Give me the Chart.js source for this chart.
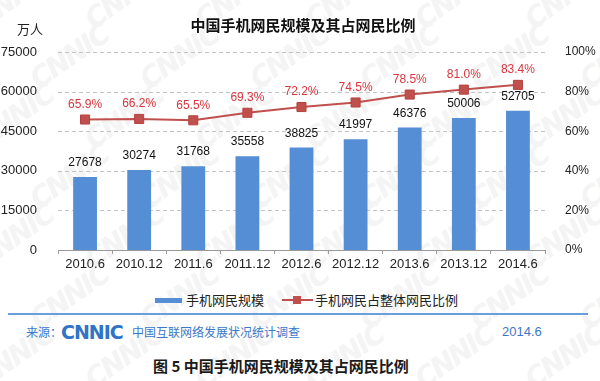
<!DOCTYPE html>
<html>
<head>
<meta charset="utf-8">
<script src="https://cdn.jsdelivr.net/npm/chart.js@4.4.1/dist/chart.umd.min.js"></script>
<style>
  body { margin: 0; width: 600px; height: 381px; overflow: hidden; background: #fff; position: relative;
         font-family: "Liberation Sans", Arial, "Noto Sans CJK SC", sans-serif; }
  .abs { position: absolute; white-space: nowrap; }
  .cjk { font-family: "Noto Sans CJK SC", sans-serif; }
  #wm { position: absolute; left: 0; top: 0; width: 600px; height: 381px; overflow: hidden; }
  #wm span { position: absolute; font: italic bold 28px "DejaVu Sans", sans-serif; color: #f4f4f4;
             transform: rotate(-35deg); letter-spacing: -2px; }
  #myChart { position: absolute; left: 0; top: 0; }
</style>
</head>
<body>
<div id="wm"></div>
<canvas id="myChart" width="600" height="290"></canvas>

<div class="abs cjk" style="left:0;width:606px;text-align:center;top:16px;font-size:15px;line-height:18px;font-weight:bold;color:#111;">中国手机网民规模及其占网民比例</div>
<div class="abs cjk" style="left:17px;top:21px;font-size:13px;line-height:16px;color:#222;">万人</div>

<div class="abs" style="left:155px;top:298px;width:27px;height:5px;background:#558ED5;"></div>
<div class="abs cjk" style="left:186px;top:291px;font-size:13px;line-height:18px;color:#222;">手机网民规模</div>
<div class="abs" style="left:282px;top:299px;width:31px;height:2px;background:#C0504D;"></div>
<div class="abs" style="left:293px;top:296px;width:8px;height:8px;background:#C0504D;"></div>
<div class="abs cjk" style="left:315px;top:291px;font-size:13px;line-height:18px;color:#222;">手机网民占整体网民比例</div>

<div class="abs" style="left:8px;top:313px;width:580px;height:2px;background:#6A9FDC;"></div>
<div class="abs cjk" style="left:26px;top:324px;font-size:12px;line-height:16px;color:#3A78C9;">来源：</div>
<div class="abs" style="left:61px;top:322px;font:bold 19px 'DejaVu Sans',sans-serif;line-height:20px;color:#2F74C6;letter-spacing:-1px;">CNNIC</div>
<div class="abs cjk" style="left:132px;top:324px;font-size:12px;line-height:16px;color:#3A78C9;">中国互联网络发展状况统计调查</div>
<div class="abs" style="left:502px;top:324px;font-size:13px;line-height:16px;color:#3A78C9;">2014.6</div>

<div class="abs cjk" style="left:153px;top:357px;font-size:15px;line-height:18px;font-weight:bold;color:#1a1a1a;">图 5 中国手机网民规模及其占网民比例</div>

<script>
const categories = ["2010.6", "2010.12", "2011.6", "2011.12", "2012.6", "2012.12", "2013.6", "2013.12", "2014.6"];
const mobileUsers = [27678, 30274, 31768, 35558, 38825, 41997, 46376, 50006, 52705];
const mobileShare = [65.9, 66.2, 65.5, 69.3, 72.2, 74.5, 78.5, 81.0, 83.4];
const leftTicks = [0, 15000, 30000, 45000, 60000, 75000];
const rightTicks = [0, 20, 40, 60, 80, 100];

// watermark
(function () {
  let wm = document.getElementById("wm");
  for (let row = 0; row < 7; row++) {
    for (let col = 0; col < 7; col++) {
      let s = document.createElement("span");
      s.textContent = "CNNIC";
      s.style.left = (col * 110 - 30 + (row % 2) * 55) + "px";
      s.style.top = (row * 60 - 20) + "px";
      wm.appendChild(s);
    }
  }
})();

// dashed horizontal grid, placed with the left value scale
const dashedGrid = {
  id: "dashedGrid",
  beforeDatasetsDraw (chart) {
    let ctx = chart.ctx;
    let area = chart.chartArea;
    let yScale = chart.scales.y;
    ctx.save();
    ctx.strokeStyle = "#C4C4C4";
    ctx.lineWidth = 1;
    ctx.setLineDash([4, 3]);
    leftTicks.forEach((v) => {
      if (v === 0) return;
      let y = Math.round(yScale.getPixelForValue(v)) + 0.5;
      ctx.beginPath();
      ctx.moveTo(area.left, y);
      ctx.lineTo(area.right, y);
      ctx.stroke();
    });
    ctx.restore();
  }
};

const valueLabels = {
  id: "valueLabels",
  afterDatasetsDraw (chart) {
    let ctx = chart.ctx;
    ctx.save();
    ctx.textAlign = "center";
    ctx.textBaseline = "middle";

    let bars = chart.getDatasetMeta(0).data;
    ctx.fillStyle = "#111";
    ctx.font = "12px 'Liberation Sans', Arial, sans-serif";
    bars.forEach((bar, i) => {
      ctx.fillText(String(mobileUsers[i]), bar.x, bar.y - 14);
    });

    let points = chart.getDatasetMeta(1).data;
    ctx.fillStyle = "#D9363E";
    ctx.font = "12px 'Liberation Sans Narrow', 'Arial Narrow', 'Liberation Sans', sans-serif";
    points.forEach((pt, i) => {
      ctx.fillText(mobileShare[i].toFixed(1) + "%", pt.x, pt.y - 15);
    });
    ctx.restore();
  }
};

let ctx = document.getElementById("myChart");
let chart = new Chart(ctx, {
  type: "bar",
  data: {
    labels: categories,
    datasets: [{
      label: "手机网民规模",
      data: mobileUsers,
      backgroundColor: "#558ED5",
      barPercentage: 0.88,
      categoryPercentage: 0.5,
      yAxisID: "y",
      order: 2
    }, {
      type: "line",
      label: "手机网民占整体网民比例",
      data: mobileShare,
      borderColor: "#C0504D",
      borderWidth: 2,
      backgroundColor: "#C0504D",
      pointStyle: "rect",
      pointRadius: 6.4,
      pointBorderColor: "#B5413E",
      pointBorderWidth: 1,
      yAxisID: "y1",
      order: 1
    }]
  },
  options: {
    responsive: false,
    devicePixelRatio: 1,
    animation: false,
    layout: { padding: { top: 52, bottom: 10, left: 0, right: 0 } },
    plugins: { legend: { display: false }, tooltip: { enabled: false } },
    scales: {
      x: {
        grid: { offset: true, drawOnChartArea: false, drawTicks: true, tickLength: 4, color: "#999" },
        border: { color: "#999" },
        ticks: { color: "#222", font: { size: 13, family: "'Liberation Sans', Arial" }, padding: 3 },
        afterFit: (scale) => { scale.height = 30; }
      },
      y: {
        position: "left",
        min: 0, max: 75000,
        afterBuildTicks: (scale) => { scale.ticks = leftTicks.map(v => ({ value: v })); },
        grid: { display: false },
        border: { display: false },
        ticks: { color: "#222", font: { size: 13, family: "'Liberation Sans', Arial" }, padding: 13,
                 callback: (v) => String(v) },
        afterFit: (scale) => { scale.width = 58; }
      },
      y1: {
        position: "right",
        min: 0, max: 100,
        afterBuildTicks: (scale) => { scale.ticks = rightTicks.map(v => ({ value: v })); },
        grid: { display: false },
        border: { display: false },
        ticks: { color: "#222", font: { size: 12, family: "'Liberation Sans', Arial" }, padding: 12,
                 callback: (v) => v + "%" },
        afterFit: (scale) => { scale.width = 55; }
      }
    }
  },
  plugins: [dashedGrid, valueLabels]
});
</script>
</body>
</html>
